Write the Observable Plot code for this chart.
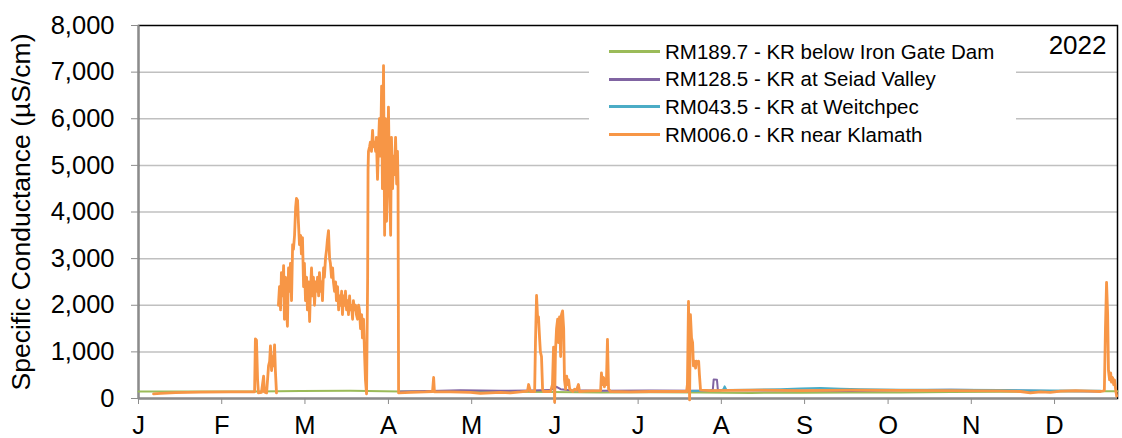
<!DOCTYPE html>
<html>
<head>
<meta charset="utf-8">
<script src="https://cdn.jsdelivr.net/npm/d3@7"></script>
<script src="https://cdn.jsdelivr.net/npm/@observablehq/plot@0.6"></script>
<style>
  body { margin: 0; background: #fff; font-family: "Liberation Sans", Arial, sans-serif; }
  #chart { position: relative; width: 1122px; height: 438px; }
  #legend { position: absolute; left: 589px; top: 36px; width: 427px; height: 114px; background: #fff;
            padding-top: 2px; box-sizing: border-box; }
  .row { display: flex; align-items: center; height: 27.6px; font-size: 20.5px; color: #000; white-space: nowrap; }
  .swatch { margin-left: 20px; width: 51px; height: 3px; margin-right: 5px; }
</style>
</head>
<body>
<div id="chart"></div>
<script>
// Klamath River specific conductance, 2022 (µS/cm). Days counted from Jan 1.
const monthLetters = ["J", "F", "M", "A", "M", "J", "J", "A", "S", "O", "N", "D"];
const monthTickDays = [0, 30.4, 60.8, 91.3, 121.7, 152.1, 182.5, 212.9, 243.3, 273.8, 304.2, 334.6];
const yTicks = [0, 1000, 2000, 3000, 4000, 5000, 6000, 7000, 8000];

const siteNames = [
  "RM189.7 - KR below Iron Gate Dam",
  "RM128.5 - KR at Seiad Valley",
  "RM043.5 - KR at Weitchpec",
  "RM006.0 - KR near Klamath"
];
const siteColors = ["#9bbb59", "#8064a2", "#4bacc6", "#f79646"];

// RM189.7 below Iron Gate Dam
const ironGateDays = [0, 22.6, 40.9, 59.2, 77.4, 95.7, 114.0, 132.2, 150.5, 168.8, 187.0, 205.3, 223.6, 241.8, 260.1, 278.3, 296.6, 314.9, 333.1, 351.4, 357.6];
const ironGateCond = [150, 150, 150, 160, 165, 150, 150, 145, 140, 130, 135, 130, 120, 125, 130, 130, 140, 145, 150, 155, 155];

// RM128.5 at Seiad Valley
const seiadDays = [95.7, 106.7, 117.6, 124.9, 132.2, 143.2, 150.5, 152.7, 154.2, 157.8, 168.8, 187.0, 205.3, 208.9, 209.8, 210.1, 211.3, 211.6, 212.2, 219.9, 241.8, 260.1, 278.3, 296.6, 314.9, 333.1, 351.4];
const seiadCond = [150, 160, 175, 170, 165, 170, 180, 250, 200, 175, 165, 170, 165, 170, 200, 410, 400, 200, 180, 175, 170, 160, 175, 185, 175, 160, 150];

// RM043.5 at Weitchpec
const weitchpecDays = [201.6, 212.6, 213.7, 214.1, 214.8, 223.6, 234.5, 241.8, 249.1, 256.4, 263.7, 278.3, 296.6, 314.9, 333.1, 351.4];
const weitchpecCond = [160, 170, 200, 260, 180, 190, 200, 215, 225, 210, 200, 190, 185, 180, 170, 165];

// RM006.0 near Klamath (null marks a gap in the record)
const klamathDays = [
  5.5, 8.0, 13.5, 22.6, 33.6, 42.4, 42.7, 43.1, 43.5, 43.8, 44.9, 45.7, 46.0, 46.8, 47.5, 47.9, 48.2, 48.6, 49.0, 49.3, 49.7, 50.0, 50.4,
  50.7,
  51.1, 51.5, 51.9, 52.2, 52.6, 53.0, 53.3, 53.7, 54.1, 54.4, 54.8, 55.2, 55.5, 55.9, 56.3, 56.6, 57.0, 57.4, 57.7, 58.1,
  58.4, 58.8, 59.2, 59.5, 59.9, 60.3, 60.6, 61.0, 61.4, 61.7, 62.1, 62.5, 62.8, 63.2, 63.6, 63.9, 64.3, 64.7, 65.0, 65.4,
  65.8, 66.1, 66.5, 66.9, 67.2, 67.6, 67.9, 68.3, 68.7, 69.0, 69.4, 69.8, 70.1, 70.5, 70.9, 71.2, 71.6, 72.0, 72.3, 72.7,
  73.1, 73.4, 73.8, 74.2, 74.5, 74.9, 75.3, 75.6, 76.0, 76.4, 76.7, 77.1, 77.4, 77.8, 78.2, 78.5, 78.9, 79.3, 79.6, 80.0,
  80.4, 80.7, 81.1, 81.5, 81.8, 82.2, 82.6, 82.9, 83.3,
  83.7, 83.85, 84.0, 84.4, 84.7, 85.1, 85.5, 85.8, 86.2, 86.6, 86.9, 87.3, 87.7, 88.0, 88.4, 88.8, 89.1, 89.5, 89.9, 90.2,
  90.6, 91.0, 91.3, 91.7, 92.1, 92.4, 92.8, 93.2, 93.5, 93.9, 94.3, 94.6, 94.8, 95.0,
  99.4, 104.8, 107.4, 107.8, 108.1, 114.0, 121.3, 124.9, 128.6, 132.2, 135.9, 139.5, 142.1, 142.5, 143.2, 144.7,
  145.0, 145.4, 145.8, 146.1, 146.5, 146.8, 147.2, 147.6, 147.9, 150.5, 151.2, 151.6, 152.0, 152.3, 152.7, 153.1, 153.4,
  153.8, 154.2, 154.5, 154.9, 155.3, 155.6, 156.0, 156.4, 156.7, 157.1, 157.5, 158.6, 159.3, 160.0, 160.7, 161.1, 163.3,
  168.8, 169.1, 169.5, 169.9, 170.2, 170.6, 170.9, 171.3, 171.7, 172.4, 179.7, 187.0, 194.3, 200.2, 200.5, 200.9, 201.3,
  201.6, 202.0, 202.4, 202.7, 203.1, 203.5, 203.8, 204.2, 204.6, 204.9, 205.3, 208.9, 216.3, 227.2, 241.8, 260.1, 278.3,
  296.6, 314.9, 322.2, 325.8, 329.5, 333.1, 336.8, 342.3, 347.8, 351.4, 352.8, 353.2, 353.6, 354.0, 354.3, 354.7, 355.1,
  355.4, 355.8, 356.2, 356.5, 356.9, 357.3
];
const klamathCond = [
  100, 110, 125, 135, 140, 145, 1280, 1250, 400, 120, 130, 480, 140, 120, 700, 800, 1130, 600, 900, 700, 1150, 600, 120,
  null,
  2000, 2400, 1900, 2700, 2200, 2850, 1700, 2600, 1900, 1550, 2800, 2300, 2900, 2100, 3300, 3200, 3500, 4100, 4290, 4250,
  3800, 3300, 3500, 3100, 3450, 2400, 2900, 2100, 2600, 1900, 2500, 1650, 2300, 2800, 2200, 2600, 2000, 2500, 2300, 2600,
  2200, 2700, 2300, 2500, 2100, 2800, 2600, 3000, 3200, 3400, 3600, 3000, 2900, 2600, 2800, 2500, 2300, 2500, 2100, 2400,
  1900, 2200, 2000, 2300, 1800, 2200, 2000, 2300, 1900, 2100, 1800, 2200, 1900, 2000, 1700, 2100, 1900, 2000, 1800, 1700,
  2000, 1900, 1500, 1800, 1300, 1700, 900, 400, 100,
  2600, 4900, 5300, 5400, 5500, 5300, 5750, 5400, 5500, 5300, 5600, 4700, 5500, 6000, 5200, 6700, 4500, 7140, 3500, 6000,
  3800, 5000, 6250, 4600, 3500, 5600, 4500, 5200, 4800, 5600, 4600, 5300, 4600, 120,
  130, 140, 150, 450, 140, 140, 130, 110, 120, 130, 120, 140, 160, 300, 150, 150,
  1200, 2210, 1700, 1750, 1300, 1000, 900, 200, 150, 150, 300, 1100, -80, 1000, 1500, 1700, 1200,
  1750, 900, 1800, 1880, 1500, 400, 200, 480, 300, 400, 200, 150, 200, 180, 300, 150, 160,
  170, 550, 300, 450, 250, 400, 300, 1270, 200, 150, 140, 150, 150, 150, 300, 2080, -30,
  1800, 1300, 1200, 700, 800, 650, 800, 750, 800, 500, 180, 170, 175, 180, 170, 180, 175,
  170, 165, 150, 120, 140, 130, 160, 170, 160, 150, 170, 1500, 2490, 1800, 600, 400, 550,
  350, 450, 300, 400, 200, 50
];

const seriesDays = [ironGateDays, seiadDays, weitchpecDays, klamathDays];
const seriesCond = [ironGateCond, seiadCond, weitchpecCond, klamathCond];
const seriesWidths = [2, 2, 2, 2.8];

const lineMarks = siteNames.map((name, s) =>
  Plot.line(
    seriesDays[s].map((d, i) => ({day: d, value: seriesCond[s][i]})),
    {x: "day", y: "value", stroke: siteColors[s], strokeWidth: seriesWidths[s], strokeLinejoin: "round"}
  )
);

const chart = Plot.plot({
  width: 1122,
  height: 438,
  marginLeft: 138,
  marginRight: 5,
  marginTop: 25,
  marginBottom: 40,
  style: {fontFamily: '"Liberation Sans", Arial, sans-serif', fontSize: "25.5px", color: "#000", background: "#fff", overflow: "visible"},
  x: {type: "linear", domain: [0, 357.6]},
  y: {domain: [0, 8000]},
  marks: [
    Plot.gridY(yTicks.slice(1, -1), {stroke: "#c0c0c0", strokeOpacity: 1, strokeWidth: 1.5}),
    Plot.frame({stroke: "#000", strokeWidth: 1.5}),
    Plot.ruleY([0], {stroke: "#8c8c8c", strokeWidth: 2}),
    Plot.ruleX([0], {stroke: "#8c8c8c", strokeWidth: 2}),
    Plot.axisY(yTicks, {
      tickSize: 7, tickPadding: 17, stroke: "#8c8c8c", fill: "#000",
      tickFormat: d3.format(","), label: null
    }),
    Plot.axisY({
      ticks: [], tickSize: 0, fontSize: 26.5,
      label: "Specific Conductance (µS/cm)", labelAnchor: "center", labelArrow: "none", labelOffset: 127
    }),
    Plot.axisX(monthTickDays, {
      tickSize: 6, tickPadding: 11, stroke: "#8c8c8c", fill: "#000",
      tickFormat: (d, i) => monthLetters[i], label: null
    }),
    ...lineMarks,
    Plot.text(["2022"], {frameAnchor: "top-right", dx: -11, dy: 10, fontSize: 26, fill: "#000", lineAnchor: "top"})
  ]
});

const holder = document.getElementById("chart");
holder.appendChild(chart);

// Legend box drawn inside the plot area
const legend = document.createElement("div");
legend.id = "legend";
siteNames.forEach((name, s) => {
  const row = document.createElement("div");
  row.className = "row";
  const sw = document.createElement("span");
  sw.className = "swatch";
  sw.style.background = siteColors[s];
  const label = document.createElement("span");
  label.textContent = name;
  row.appendChild(sw);
  row.appendChild(label);
  legend.appendChild(row);
});
holder.appendChild(legend);
</script>
</body>
</html>
